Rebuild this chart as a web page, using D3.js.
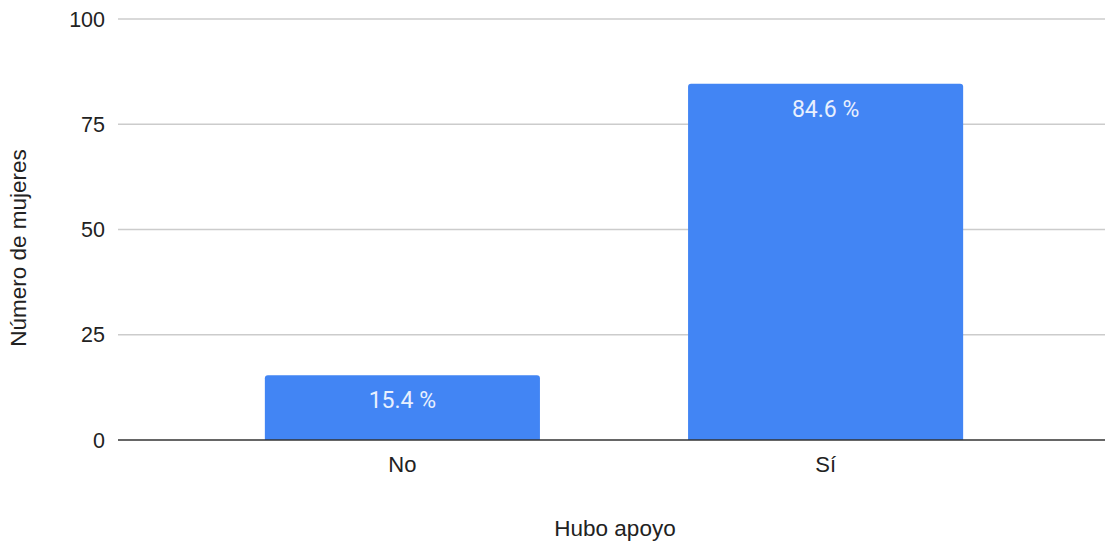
<!DOCTYPE html>
<html>
<head>
<meta charset="utf-8">
<script src="https://cdn.jsdelivr.net/npm/d3@7"></script>
<style>
  html, body { margin: 0; padding: 0; background: #fff; }
  svg { display: block; }
</style>
</head>
<body>
<svg id="chart" width="1105" height="544"></svg>
<script>
const categories = ["No", "Sí"];
const values = [15.4, 84.6];
const valueLabels = ["15.4 %", "84.6 %"];
const yTicks = [0, 25, 50, 75, 100];
const xTitle = "Hubo apoyo";
const yTitle = "Número de mujeres";

const svg = d3.select("#chart");
const plot = { left: 118, right: 1105, top: 19, bottom: 440 };

const x = d3.scaleBand()
  .domain(categories)
  .range([plot.left, 1110])
  .paddingInner(0.35)
  .paddingOuter(0.347);

const y = d3.scaleLinear()
  .domain([0, 100])
  .range([plot.bottom, plot.top]);

const font = "'Liberation Sans', Arial, sans-serif";

// gridlines
svg.append("g")
  .selectAll("line")
  .data(yTicks.filter(d => d !== 0))
  .join("line")
  .attr("x1", plot.left).attr("x2", plot.right)
  .attr("y1", d => y(d)).attr("y2", d => y(d))
  .attr("stroke", "#cccccc").attr("stroke-width", 1.3);

// y tick labels
svg.append("g")
  .selectAll("text")
  .data(yTicks)
  .join("text")
  .attr("x", 105)
  .attr("y", d => y(d))
  .attr("dy", "0.35em")
  .attr("text-anchor", "end")
  .attr("font-family", font)
  .attr("font-size", 21.5)
  .attr("fill", "#222")
  .text(d => d);

// bars with rounded top corners
const r = 3;
svg.append("g")
  .selectAll("path")
  .data(categories.map((c, i) => ({ c, v: values[i] })))
  .join("path")
  .attr("fill", "#4285f4")
  .attr("d", d => {
    const x0 = x(d.c), x1 = x0 + x.bandwidth();
    const y0 = y(d.v), y1 = y(0);
    return `M${x0},${y1} L${x0},${y0 + r} Q${x0},${y0} ${x0 + r},${y0} L${x1 - r},${y0} Q${x1},${y0} ${x1},${y0 + r} L${x1},${y1} Z`;
  });

// baseline
svg.append("line")
  .attr("x1", plot.left).attr("x2", plot.right)
  .attr("y1", y(0)).attr("y2", y(0))
  .attr("stroke", "#333").attr("stroke-width", 1.5);

// data labels
svg.append("g")
  .selectAll("text")
  .data(categories.map((c, i) => ({ c, v: values[i], l: valueLabels[i] })))
  .join("text")
  .attr("x", d => x(d.c) + x.bandwidth() / 2)
  .attr("y", d => y(d.v) + 33)
  .attr("text-anchor", "middle")
  .attr("font-family", "Roboto, sans-serif")
  .attr("font-size", 23)
  .attr("fill", "#e8f0fe")
  .text(d => d.l);

// x tick labels
svg.append("g")
  .selectAll("text")
  .data(categories)
  .join("text")
  .attr("x", d => x(d) + x.bandwidth() / 2)
  .attr("y", 472)
  .attr("text-anchor", "middle")
  .attr("font-family", font)
  .attr("font-size", 22)
  .attr("fill", "#222")
  .text(d => d);

// axis titles
svg.append("text")
  .attr("x", 615).attr("y", 536)
  .attr("text-anchor", "middle")
  .attr("font-family", font)
  .attr("font-size", 22.5)
  .attr("fill", "#222")
  .text(xTitle);

svg.append("text")
  .attr("transform", "translate(26,248) rotate(-90)")
  .attr("text-anchor", "middle")
  .attr("font-family", font)
  .attr("font-size", 22.5)
  .attr("fill", "#222")
  .text(yTitle);
</script>
</body>
</html>
